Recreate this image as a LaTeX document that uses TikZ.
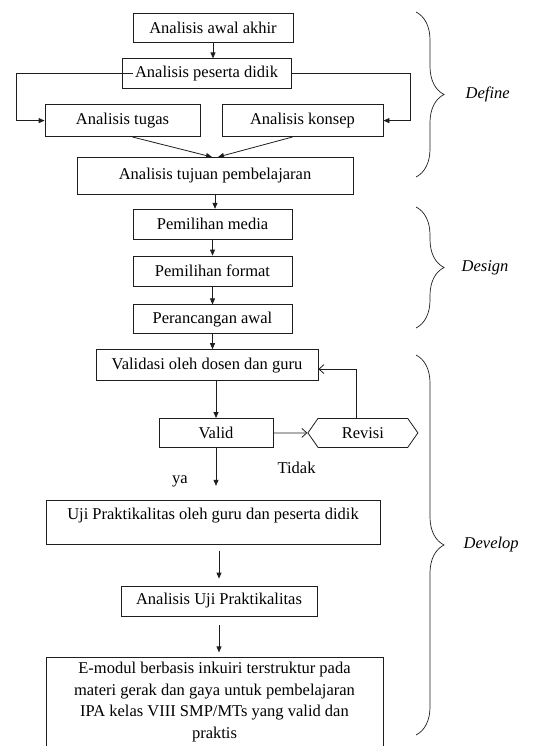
\documentclass[tikz,border=0pt]{standalone}
\usepackage{fontspec}
\setmainfont{Liberation Serif}
\usepackage{tikz}
\usetikzlibrary{arrows.meta,positioning,shapes.symbols,decorations.pathreplacing}
\definecolor{FlowInk}{HTML}{1E1E1E}

\begin{document}
\begin{tikzpicture}[
  x=1pt,y=-1pt,
  font=\fontsize{16.5}{21.5}\selectfont,
  box/.style={draw=FlowInk,line width=0.8pt,fill=white,minimum height=30pt,inner sep=3pt,align=center},
  hexa/.style={box,signal,signal to=west and east,signal pointer angle=110},
  edge/.style={-{Triangle[length=6pt,width=5pt]},draw=FlowInk,line width=0.8pt},
  back/.style={-{Straight Barb[length=5pt,width=9pt]},draw=FlowInk,line width=0.8pt},
  lbl/.style={inner sep=3pt},
  phase/.style={draw=FlowInk,line width=0.7pt,decorate,decoration={brace,amplitude=28pt}},
  stage/.style={font=\fontsize{16.5}{19}\selectfont\itshape,anchor=west}
]
\useasboundingbox (0,0) rectangle (533,746);
\clip (0,0) rectangle (533,746);

\node[box,minimum width=160pt,minimum height=29pt] (awal) at (213,27.5) {Analisis awal akhir};
\node[box,minimum width=169pt,below=16pt of awal,xshift=-6.5pt] (peserta) {Analisis peserta didik};
\node[box,minimum width=155pt,minimum height=32pt,below=15pt of peserta,xshift=-84pt] (tugas) {Analisis tugas};
\node[box,minimum width=161pt,minimum height=32pt,below=15pt of peserta,xshift=96pt] (konsep) {Analisis konsep};
\node[box,minimum width=276pt,minimum height=37pt,below=20pt of tugas.south -| awal,xshift=2pt] (tujuan) {Analisis tujuan pembelajaran};
\node[box,minimum width=159pt,below=14pt of tujuan,xshift=-2.5pt] (media) {Pemilihan media};
\node[box,minimum width=159pt,below=16pt of media] (format) {Pemilihan format};
\node[box,minimum width=159pt,minimum height=29pt,below=18pt of format] (rancang) {Perancangan awal};
\node[box,minimum width=222pt,minimum height=31pt,below=15pt of rancang,xshift=-5.5pt] (validasi) {Validasi oleh dosen dan guru};
\node[box,minimum width=114pt,minimum height=29pt,below=37pt of validasi,xshift=9pt] (valid) {Valid};
\node[hexa,minimum width=110pt,minimum height=29pt,right=34pt of valid] (revisi) {Revisi};
\node[box,minimum width=334pt,text height=14pt,text depth=19pt,inner ysep=5.5pt,below=52pt of valid,xshift=-3pt] (uji) {Uji Praktikalitas oleh guru dan peserta didik};
\node[box,minimum width=196pt,below=41pt of uji,xshift=6pt] (anuji) {Analisis Uji Praktikalitas};
\node[box,minimum width=337pt,inner ysep=4.5pt,below=41pt of anuji,xshift=-4.5pt] (emodul) {E-modul berbasis inkuiri terstruktur pada\\materi gerak dan gaya untuk pembelajaran\\IPA kelas VIII SMP/MTs yang valid dan\\praktis};

\node[lbl,below left=25pt and 25pt of valid.south] (ya) {ya};
\node[lbl,below right=26pt and 1pt of valid.east] (tidak) {Tidak};

% tahap 4-D
\coordinate (defTop) at (416,12);
\coordinate (defBot) at (416,177);
\coordinate (desTop) at (416,207);
\coordinate (desBot) at (416,328);
\coordinate (devTop) at (416,355);
\coordinate (devBot) at (416,735);
\draw[phase] (defTop) -- node[stage,right=46pt] (define) {Define} (defBot);
\draw[phase] (desTop) -- node[stage,right=42pt] (design) {Design} (desBot);
\draw[phase] (devTop) -- node[stage,right=44pt] (develop) {Develop} (devBot);

\draw[edge] (awal.south) -- (awal.south |- peserta.north);
\draw[edge] ([xshift=11pt]peserta.west) -| ([xshift=-28pt]tugas.west) -- (tugas.west);
\draw[edge] (peserta.east) -| ([xshift=27pt]konsep.east) -- (konsep.east);
\draw[edge] ([xshift=10pt]tugas.south) -- ([xshift=-3pt]tujuan.north);
\draw[edge] ([xshift=-10pt]konsep.south) -- ([xshift=3pt]tujuan.north);
\draw[edge] (tujuan.south) -- (tujuan.south |- media.north);
\draw[edge] (media) -- (format);
\draw[edge] (format) -- (rancang);
\draw[edge] (rancang.south) -- (rancang.south |- validasi.north);
\draw[edge] (valid.north |- validasi.south) -- (valid.north);
\draw[back] (valid) -- (revisi);
\draw[back] ([xshift=-6pt]revisi.north) |- ([yshift=-4pt]validasi.east);
\draw[edge,shorten >=14pt] (valid) -- (valid.south |- uji.north);
\draw[edge,shorten <=6pt,shorten >=7pt] (anuji.north |- uji.south) -- (anuji.north);
\draw[edge,shorten <=9pt,shorten >=5pt] (anuji.south) -- (anuji.south |- emodul.north);
\end{tikzpicture}
\end{document}
